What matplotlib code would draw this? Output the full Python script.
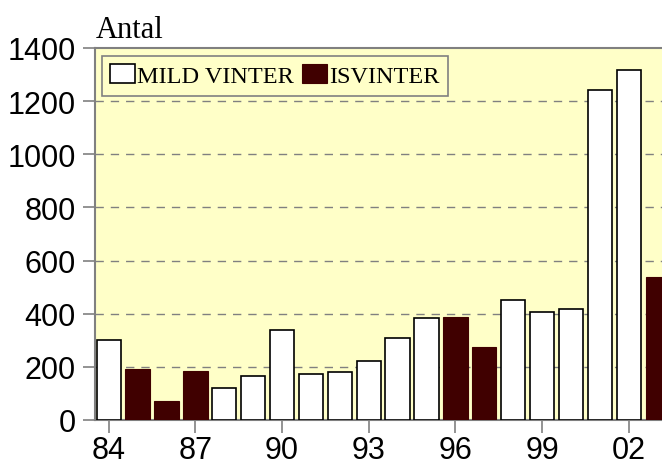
import matplotlib
matplotlib.use("Agg")
import matplotlib.pyplot as plt
import numpy as np

# data
years = ["84", "85", "86", "87", "88", "89", "90", "91", "92", "93",
         "94", "95", "96", "97", "98", "99", "00", "01", "02", "03"]
antal = [300, 191, 71, 184, 122, 164, 340, 173, 182, 223,
         307, 385, 388, 275, 453, 405, 418, 1241, 1316, 538]
isvinter = [False, True, True, True, False, False, False, False, False, False,
            False, False, True, True, False, False, False, False, False, True]

tick_years = ["84", "87", "90", "93", "96", "99", "02"]

bg = "#ffffc8"
dark = "#400000"
grey = "#808080"

fig = plt.figure(figsize=(6.62, 4.64), dpi=100)
ax = fig.add_axes([95 / 662, 43 / 464, 567 / 662, 372 / 464])
ax.set_facecolor(bg)

x = np.arange(len(years))
ice = np.array(isvinter)
vals = np.array(antal)

ax.bar(x[~ice], vals[~ice], width=0.84, color="white", edgecolor="black",
       linewidth=1.2, label="MILD VINTER", zorder=3)
ax.bar(x[ice], vals[ice], width=0.84, color=dark, edgecolor=dark,
       linewidth=0.8, label="ISVINTER", zorder=3)

ax.set_xlim(-0.474, 19.15)
ax.set_ylim(0, 1400)
ax.set_yticks(range(0, 1401, 200))
ax.set_xticks([years.index(t) for t in tick_years])
ax.set_xticklabels(tick_years)

for s in ax.get_yticks()[1:-1]:
    ax.axhline(s, color=grey, linestyle=(0, (6, 5)), linewidth=1, zorder=1)

for side in ["left", "bottom", "top"]:
    ax.spines[side].set_color(grey)
    ax.spines[side].set_linewidth(1.5)
ax.spines["right"].set_visible(False)

ax.tick_params(axis="both", colors=grey, length=9, width=1.2,
               labelcolor="black", labelsize=22, pad=5)
ax.tick_params(axis="x", pad=2)
for lab in ax.get_xticklabels() + ax.get_yticklabels():
    lab.set_fontfamily("Liberation Sans")

fig.text(96 / 662, 1 - 38 / 464, "Antal", family="Liberation Serif",
         fontsize=22, ha="left", va="baseline")

leg = ax.legend(loc="upper left", bbox_to_anchor=(0.012, 0.979),
                borderaxespad=0, ncol=2, fancybox=False, framealpha=1,
                facecolor=bg, edgecolor=grey, handlelength=1.0,
                handleheight=0.8, handletextpad=0.1, columnspacing=0.35,
                borderpad=0.35, prop={"family": "Liberation Serif", "size": 17.5})
leg.get_frame().set_linewidth(1.2)

fig.savefig("out.png", dpi=100)
